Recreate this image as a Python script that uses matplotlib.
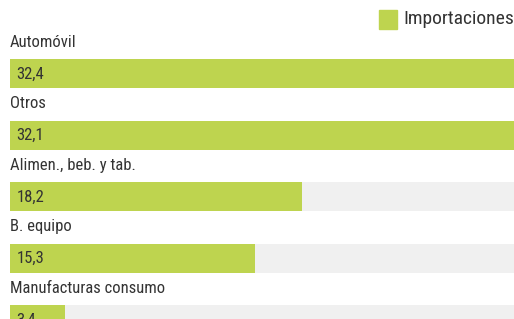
import matplotlib
matplotlib.use("Agg")
import matplotlib.pyplot as plt
from matplotlib import font_manager

categories = ["Automóvil", "Otros", "Alimen., beb. y tab.", "B. equipo", "Manufacturas consumo"]
values = [32.4, 32.1, 18.2, 15.3, 3.4]
value_labels = ["32,4", "32,1", "18,2", "15,3", "3,4"]
series_name = "Importaciones"

green = "#bed44f"
track = "#f0f0f0"
text_col = "#333333"

names = {f.name for f in font_manager.fontManager.ttflist}
fam = ["Roboto Condensed", "Roboto", "DejaVu Sans"]
fam = [f for f in fam if f in names] or ["DejaVu Sans"]
plt.rcParams["font.family"] = fam

W, H = 514, 319
fig = plt.figure(figsize=(W / 100, H / 100), dpi=100)
# plot area: x from 10px to right edge, rows spaced 61.5px, first centre at 73.5px
ax = fig.add_axes([10 / W, 0, 1 - 10 / W, 1])
row = 61.5
first = 73.5
ax.set_ylim((H - first) / row, -first / row)
ax.set_xlim(0, 504 / 16.04)
ax.axis("off")

n = len(categories)
ys = list(range(n))
bh = 29 / row
xmax = ax.get_xlim()[1]
ax.barh(ys, [xmax] * n, height=bh, color=track, zorder=1)
ax.barh(ys, values, height=bh, color=green, zorder=2)

for y, cat, lab in zip(ys, categories, value_labels):
    ax.text(0, y - 0.51, cat, ha="left", va="center", fontsize=12, color=text_col, zorder=3)
    ax.text(0.4, y + 0.01, lab, ha="left", va="center", fontsize=12, color=text_col, zorder=3)

# legend
fig.patches.append(plt.Rectangle((379 / W, 1 - 29 / H), 18 / W, 19 / H,
                                 transform=fig.transFigure, color=green))
fig.text(403 / W, 1 - 19 / H, series_name, ha="left", va="center", fontsize=14, color=text_col)

fig.savefig("out.png", dpi=100)
